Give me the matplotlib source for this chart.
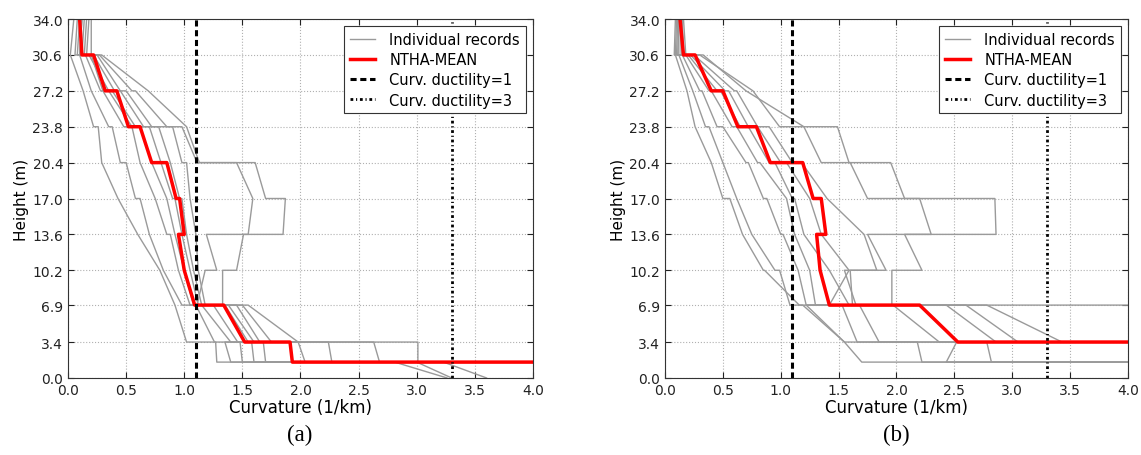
import matplotlib
matplotlib.use("Agg")
import matplotlib.pyplot as plt

# node heights of every profile (storey top, storey bottom, ...)
heights = [34.0, 30.6, 30.6, 27.2, 27.2, 23.8, 23.8, 20.4, 20.4, 17.0,
           17.0, 13.6, 13.6, 10.2, 10.2, 6.9, 6.9, 3.4, 3.4, 1.5, 1.5, 0.0]
yticks = [0.0, 3.4, 6.9, 10.2, 13.6, 17.0, 20.4, 23.8, 27.2, 30.6, 34.0]
xticks = [0.0, 0.5, 1.0, 1.5, 2.0, 2.5, 3.0, 3.5, 4.0]

# (a) individual records, curvature (1/km) at each node
records_a = [
    [0.05, 0.02, 0.02, 0.13, 0.13, 0.22, 0.26, 0.29, 0.29, 0.43, 0.43,
     0.60, 0.60, 0.79, 0.79, 0.92, 0.92, 1.02, 1.27, 1.28, 6.0, 7.0],
    [0.08, 0.06, 0.10, 0.20, 0.20, 0.35, 0.38, 0.45, 0.50, 0.58, 0.62,
     0.70, 0.70, 0.82, 0.82, 0.98, 1.10, 1.26, 1.48, 1.50, 3.23, 3.60],
    [0.10, 0.08, 0.15, 0.28, 0.30, 0.48, 0.55, 0.62, 0.62, 0.75, 0.75,
     0.85, 0.88, 0.95, 0.95, 1.05, 1.15, 1.40, 1.58, 1.60, 2.81, 3.26],
    [0.12, 0.10, 0.18, 0.35, 0.38, 0.58, 0.62, 0.72, 0.72, 0.85, 0.85,
     0.92, 0.92, 1.00, 1.00, 1.08, 1.25, 1.46, 1.68, 1.70, 6.0, 7.0],
    [0.14, 0.12, 0.22, 0.40, 0.45, 0.65, 0.70, 0.80, 0.80, 0.90, 0.92,
     0.98, 0.98, 1.05, 1.05, 1.12, 1.35, 1.55, 1.98, 2.04, 6.0, 7.0],
    [0.16, 0.14, 0.25, 0.45, 0.50, 0.72, 0.78, 0.88, 0.88, 0.96, 0.98,
     1.02, 1.02, 1.08, 1.08, 1.15, 1.38, 1.60, 2.24, 2.27, 6.0, 7.0],
    [0.18, 0.16, 0.27, 0.55, 0.58, 0.85, 0.90, 0.98, 1.02, 1.05, 1.05,
     1.10, 1.10, 1.12, 1.12, 1.18, 1.45, 1.65, 2.63, 2.68, 3.00, 3.30],
    [0.20, 0.20, 0.29, 0.69, 0.69, 1.02, 1.02, 1.13, 1.61, 1.70, 1.87,
     1.85, 1.51, 1.45, 1.33, 1.33, 1.50, 1.75, 3.01, 3.01, 6.0, 7.0],
    [0.12, 0.10, 0.20, 0.30, 0.35, 0.55, 0.98, 1.11, 1.45, 1.59, 1.59,
     1.55, 1.19, 1.28, 1.18, 1.11, 1.55, 1.98, 1.35, 1.40, 6.0, 7.0],
]
mean_a = [0.10, 0.12, 0.22, 0.32, 0.42, 0.52, 0.62, 0.72, 0.85, 0.93, 0.96,
          1.00, 0.95, 1.00, 1.00, 1.09, 1.34, 1.52, 1.91, 1.93, 5.0, 6.0]

# (b) individual records
records_b = [
    [0.09, 0.08, 0.09, 0.19, 0.19, 0.26, 0.26, 0.40, 0.40, 0.50, 0.56,
     0.67, 0.67, 0.85, 0.86, 1.16, 1.19, 1.55, 1.55, 1.70, 6.0, 7.0],
    [0.10, 0.09, 0.12, 0.24, 0.24, 0.35, 0.38, 0.50, 0.50, 0.62, 0.62,
     0.75, 0.75, 0.95, 0.99, 1.08, 1.53, 1.66, 2.18, 2.22, 6.0, 7.0],
    [0.11, 0.10, 0.15, 0.30, 0.32, 0.45, 0.50, 0.70, 0.72, 0.85, 0.88,
     1.00, 1.02, 1.15, 1.15, 1.22, 1.68, 1.85, 2.52, 2.43, 6.0, 7.0],
    [0.12, 0.12, 0.18, 0.38, 0.40, 0.58, 0.62, 0.80, 0.82, 1.05, 1.05,
     1.12, 1.12, 1.25, 1.25, 1.30, 1.97, 2.37, 2.78, 2.82, 6.0, 7.0],
    [0.13, 0.14, 0.20, 0.45, 0.48, 0.65, 0.72, 0.90, 0.95, 1.10, 1.12,
     1.20, 1.20, 1.42, 1.42, 1.59, 2.43, 2.86, 6.0, 6.5, 6.0, 7.0],
    [0.14, 0.15, 0.22, 0.52, 0.55, 0.72, 0.80, 1.00, 1.05, 1.25, 1.25,
     1.35, 1.35, 1.59, 1.59, 1.42, 2.60, 3.05, 6.0, 6.5, 6.0, 7.0],
    [0.15, 0.16, 0.25, 0.60, 0.62, 0.80, 0.90, 1.10, 1.18, 1.40, 1.40,
     1.72, 1.72, 1.83, 1.60, 1.62, 2.78, 3.43, 6.0, 6.5, 6.0, 7.0],
    [0.16, 0.18, 0.30, 0.76, 0.76, 0.99, 1.49, 1.59, 1.95, 2.07, 2.85,
     2.86, 2.07, 2.22, 1.96, 1.96, 4.6, 4.8, 6.0, 6.5, 6.0, 7.0],
    [0.12, 0.11, 0.33, 0.70, 0.70, 1.20, 1.20, 1.35, 1.60, 1.75, 2.20,
     2.30, 1.75, 1.91, 1.55, 1.65, 1.22, 1.55, 6.0, 6.5, 6.0, 7.0],
]
mean_b = [0.13, 0.16, 0.26, 0.40, 0.50, 0.63, 0.79, 0.91, 1.19, 1.28, 1.35,
          1.39, 1.31, 1.34, 1.34, 1.42, 2.20, 2.53, 6.0, 6.5, 6.0, 6.5]

ductility1 = 1.1
ductility3 = 3.3

fig = plt.figure(figsize=(11.41, 4.56), dpi=100)
axA = fig.add_axes([0.0596, 0.169, 0.4075, 0.787])
axB = fig.add_axes([0.5828, 0.169, 0.4058, 0.787])


def panel(ax, records, mean):
    for i, rec in enumerate(records):
        ax.plot(rec, heights, color="#9a9a9a", lw=1.0,
                label="Individual records" if i == 0 else None)
    ax.plot(mean, heights, color="red", lw=2.5, label="NTHA-MEAN")
    ax.axvline(ductility1, color="k", lw=2.2, dashes=(2.0, 1.2),
               label="Curv. ductility=1")
    ax.axvline(ductility3, color="k", lw=2.0, dashes=(1.0, 1.0, 0.4, 1.0),
               label="Curv. ductility=3")
    ax.set_xlim(0, 4)
    ax.set_ylim(0, 34)
    ax.set_xticks(xticks)
    ax.set_yticks(yticks)
    ax.set_xticklabels(["%.1f" % v for v in xticks])
    ax.set_yticklabels(["%.1f" % v for v in yticks])
    ax.grid(True, color="#b0b0b0", ls=":", lw=0.8)
    ax.tick_params(direction="in", top=True, right=True, labelsize=10,
                   length=4, colors="#222222")
    for s in ax.spines.values():
        s.set_color("#333333")
    ax.set_xlabel("Curvature (1/km)", fontsize=12, labelpad=1)
    ax.set_ylabel("Height (m)", fontsize=11, labelpad=2)
    leg = ax.legend(loc="upper right", fontsize=10.5, fancybox=False,
                    framealpha=1, edgecolor="#333333", handlelength=1.7,
                    handletextpad=1.0, borderaxespad=0.5,
                    labelspacing=0.35)
    leg.get_frame().set_linewidth(0.8)


panel(axA, records_a, mean_a)
panel(axB, records_b, mean_b)

fig.text(0.2628, 0.046, "(a)", ha="center", va="center", fontsize=16.5,
         family="Liberation Serif")
fig.text(0.7857, 0.046, "(b)", ha="center", va="center", fontsize=16.5,
         family="Liberation Serif")

fig.savefig("out.png", dpi=100, facecolor="white")
